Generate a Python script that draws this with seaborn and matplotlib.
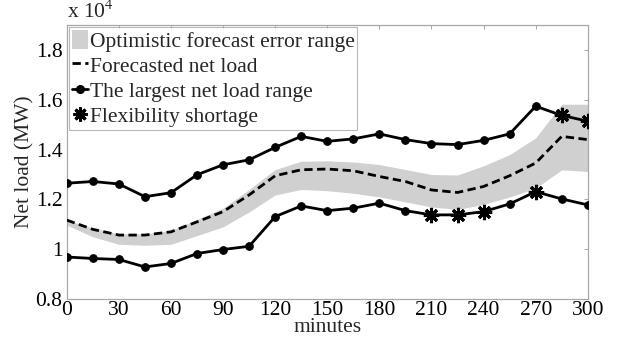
import numpy as np
import pandas as pd
import matplotlib
matplotlib.use("Agg")
import matplotlib.pyplot as plt
from matplotlib.lines import Line2D
from matplotlib.patches import Patch
from matplotlib.ticker import FuncFormatter, MultipleLocator
import seaborn as sns

minutes = [0, 15, 30, 45, 60, 75, 90, 105, 120, 135, 150, 165, 180, 195, 210, 225, 240, 255, 270, 285, 300]
# values in MW
forecast = [11170, 10800, 10570, 10570, 10700, 11100, 11510, 12180, 12950, 13190, 13220, 13150, 12920, 12720, 12380, 12280, 12520, 12950, 13460, 14530, 14400]
band_upper = [11170, 10850, 10620, 10620, 10750, 11200, 11650, 12400, 13200, 13530, 13550, 13500, 13400, 13200, 13000, 12980, 13350, 13800, 14470, 15820, 15820]
band_lower = [10970, 10500, 10200, 10160, 10200, 10550, 10900, 11500, 12180, 12400, 12350, 12250, 12100, 11900, 11700, 11600, 11800, 12100, 12450, 13190, 13120]
upper_range = [12650, 12720, 12620, 12110, 12270, 12990, 13390, 13590, 14090, 14530, 14330, 14430, 14630, 14400, 14240, 14200, 14370, 14630, 15740, 15370, 15140]
lower_range = [9690, 9630, 9590, 9290, 9430, 9830, 9990, 10120, 11310, 11740, 11550, 11650, 11850, 11550, 11380, 11380, 11510, 11820, 12310, 12020, 11780]
short_x = [210, 225, 240, 270, 285, 300]
short_y = [11380, 11380, 11510, 12310, 15370, 15140]

df = pd.DataFrame({"minutes": minutes, "forecast": forecast, "upper": upper_range, "lower": lower_range})

sns.set_style("white")
plt.rcParams["font.family"] = ["Liberation Serif", "DejaVu Serif"]
plt.rcParams["mathtext.fontset"] = "stix"

FS = 15.5
fig = plt.figure(figsize=(6.3, 3.47), dpi=100)
ax = fig.add_axes([0.106, 0.138, 0.827, 0.790])

ax.fill_between(minutes, band_lower, band_upper, color="#d0d0d0", linewidth=0, zorder=1)
sns.lineplot(data=df, x="minutes", y="forecast", ax=ax, color="black", linewidth=2.0,
             dashes=False, zorder=3)
ax.lines[-1].set_dashes((3, 1.6))
sns.lineplot(data=df, x="minutes", y="upper", ax=ax, color="black", linewidth=2.0,
             marker="o", markersize=5.5, markeredgecolor="black", zorder=4)
sns.lineplot(data=df, x="minutes", y="lower", ax=ax, color="black", linewidth=2.0,
             marker="o", markersize=5.5, markeredgecolor="black", zorder=4)
ax.plot(short_x, short_y, linestyle="none", marker=(8, 2, 0), markersize=11,
        markeredgewidth=2.2, color="black", zorder=5)

ax.set_xlim(0, 300)
ax.set_ylim(8000, 19000)
ax.xaxis.set_major_locator(MultipleLocator(30))
ax.yaxis.set_major_locator(MultipleLocator(2000))
ax.yaxis.set_major_formatter(FuncFormatter(lambda v, p: "%g" % (v / 1e4)))
ax.tick_params(direction="in", length=3, width=0.6, color="#9a9a9a",
               top=True, right=True, labelsize=FS, labelcolor="black")
ax.tick_params(axis="x", pad=1)
ax.tick_params(axis="y", pad=3)
for s in ax.spines.values():
    s.set_color("#a8a8a8")
    s.set_linewidth(0.9)
ax.set_xlabel("minutes", fontsize=FS, labelpad=-1)
ax.set_ylabel("Net load (MW)", fontsize=FS, labelpad=1)
fig.text(0.106, 0.935, r"x 10$^4$", fontsize=FS, ha="left", va="bottom")

handles = [
    Patch(facecolor="#d0d0d0", edgecolor="none"),
    Line2D([0], [0], color="black", linewidth=2.0, dashes=(3, 1.6)),
    Line2D([0], [0], color="black", linewidth=2.0, marker="o", markersize=5.5),
    Line2D([0], [0], linestyle="none", color="black", marker=(8, 2, 0), markersize=10, markeredgewidth=2.2),
]
labels = ["Optimistic forecast error range", "Forecasted net load",
          "The largest net load range", "Flexibility shortage"]
leg = ax.legend(handles, labels, loc="upper left", bbox_to_anchor=(0.0, 1.0),
                fontsize=FS, frameon=True, fancybox=False, borderaxespad=0.1,
                handlelength=0.75, handletextpad=0.1, labelspacing=0.15,
                borderpad=0.12, handleheight=1.0)
leg.get_frame().set_edgecolor("#a8a8a8")
leg.get_frame().set_linewidth(0.8)

fig.savefig("out.png", dpi=100)
